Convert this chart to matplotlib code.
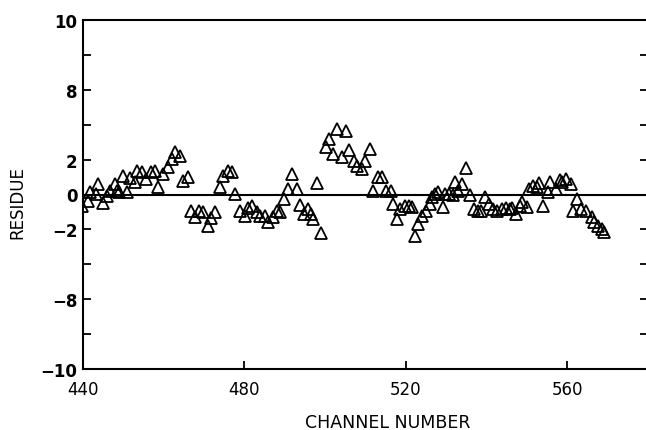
import matplotlib
matplotlib.use("Agg")
from matplotlib import pyplot as plt

# residue per channel
channel = [
    439.8, 441.2, 441.7, 443.2, 443.7, 445.0, 445.9, 446.7, 447.9, 448.4,
    448.9, 449.9, 450.9, 451.6, 452.9, 453.4, 454.6, 455.6, 456.8, 457.8,
    458.6, 459.8, 461.0, 462.0, 462.8, 464.0, 464.8, 466.0, 466.7, 467.7,
    468.7, 469.7, 470.9, 471.7, 472.7, 473.9, 474.7, 475.9, 476.9, 477.6,
    478.9, 480.1, 480.8, 481.8, 483.1, 483.8, 485.0, 485.8, 487.0, 488.0,
    488.8, 489.7, 490.7, 491.7, 493.0, 493.7, 494.7, 495.7, 496.4, 496.9,
    497.9, 498.9, 500.1, 500.9, 501.9, 502.9, 504.1, 505.1, 505.8, 507.1,
    507.8, 509.1, 509.8, 511.0, 511.8, 513.0, 514.0, 515.2, 516.2, 516.7,
    517.7, 518.5, 519.7, 520.9, 521.4, 522.2, 522.9, 523.9, 524.9, 525.9,
    526.6, 527.1, 527.9, 529.1, 529.8, 530.8, 531.6, 532.1, 532.8, 533.8,
    535.0, 535.8, 537.0, 537.8, 538.5, 539.5, 540.7, 541.5, 542.5, 543.7,
    544.9, 545.7, 546.4, 547.4, 548.2, 548.9, 550.1, 550.6, 551.4, 552.4,
    553.1, 554.1, 555.1, 555.8, 557.1, 558.1, 558.8, 559.8, 561.0, 561.5,
    562.5, 563.5, 564.7, 566.0, 566.7, 567.5, 568.5, 569.2,
]
residue = [
    -0.66, -0.37, 0.14, 0.03, 0.60, -0.49, -0.09, 0.20, 0.60, 0.20,
    0.14, 1.06, 0.14, 0.95, 0.72, 1.35, 1.29, 0.89, 1.29, 1.35,
    0.43, 1.17, 1.58, 2.03, 2.44, 2.21, 0.77, 1.00, -0.95, -1.29,
    -0.95, -1.00, -1.80, -1.35, -1.00, 0.43, 1.06, 1.35, 1.29, 0.03,
    -0.95, -1.23, -0.77, -0.66, -1.00, -1.23, -1.23, -1.58, -1.29, -0.95,
    -1.00, -0.26, 0.32, 1.17, 0.32, -0.60, -1.12, -0.83, -1.12, -1.40,
    0.66, -2.21, 2.72, 3.18, 2.32, 3.75, 2.15, 3.64, 2.55, 1.92,
    1.63, 1.46, 1.92, 2.61, 0.20, 1.00, 1.00, 0.20, 0.20, -0.54,
    -1.40, -0.83, -0.66, -0.66, -0.72, -2.38, -1.69, -1.23, -0.95, -0.54,
    -0.14, 0.03, 0.14, -0.72, 0.03, 0.03, -0.03, 0.72, 0.20, 0.60,
    1.52, -0.03, -0.83, -0.95, -0.95, -0.14, -0.54, -0.83, -0.95, -0.83,
    -0.77, -0.83, -0.77, -1.12, -0.66, -0.43, -0.72, 0.32, 0.49, 0.43,
    0.66, -0.66, 0.14, 0.72, 0.32, 0.83, 0.72, 0.89, 0.60, -0.95,
    -0.26, -0.83, -0.95, -1.29, -1.58, -1.80, -1.98, -2.15,
]

# the scan labels the +-6 ticks as "8" / "-8"
ytick_vals = [10, 6, 2, 0, -2, -6, -10]
ytick_text = ["10", "8", "2", "0", "\u22122", "\u22128", "\u221210"]
yminor_vals = [8, 4, -4, -8]
xtick_vals = [440, 480, 520, 560]

fig = plt.figure(figsize=(6.46, 4.31), dpi=100)
ax = fig.add_axes([83 / 646, 61 / 431, 565 / 646, 349 / 431])

ax.axhline(0, color="black", lw=1.5, zorder=1)
ax.plot(channel, residue, ls="none", marker="^", markersize=8.5,
        markerfacecolor="none", markeredgecolor="black", markeredgewidth=1.3,
        zorder=3)

ax.set_xlim(440, 580)
ax.set_ylim(-10, 10)
ax.set_xticks(xtick_vals)
ax.set_yticks(ytick_vals)
ax.set_yticklabels(ytick_text, fontweight="bold")
ax.set_yticks(yminor_vals, minor=True)

for s in ax.spines.values():
    s.set_linewidth(1.5)

ax.tick_params(axis="both", which="both", direction="in", length=6, width=1.3,
               labelsize=12)
ax.tick_params(axis="y", which="both", right=True, pad=4)
ax.tick_params(axis="x", pad=8)

ax.set_xlabel("CHANNEL NUMBER", fontsize=12.5)
ax.set_ylabel("RESIDUE", fontsize=12)
ax.xaxis.set_label_coords(0.54, -0.125)
ax.yaxis.set_label_coords(-0.10, 0.48)

fig.savefig("out.png", dpi=100)
